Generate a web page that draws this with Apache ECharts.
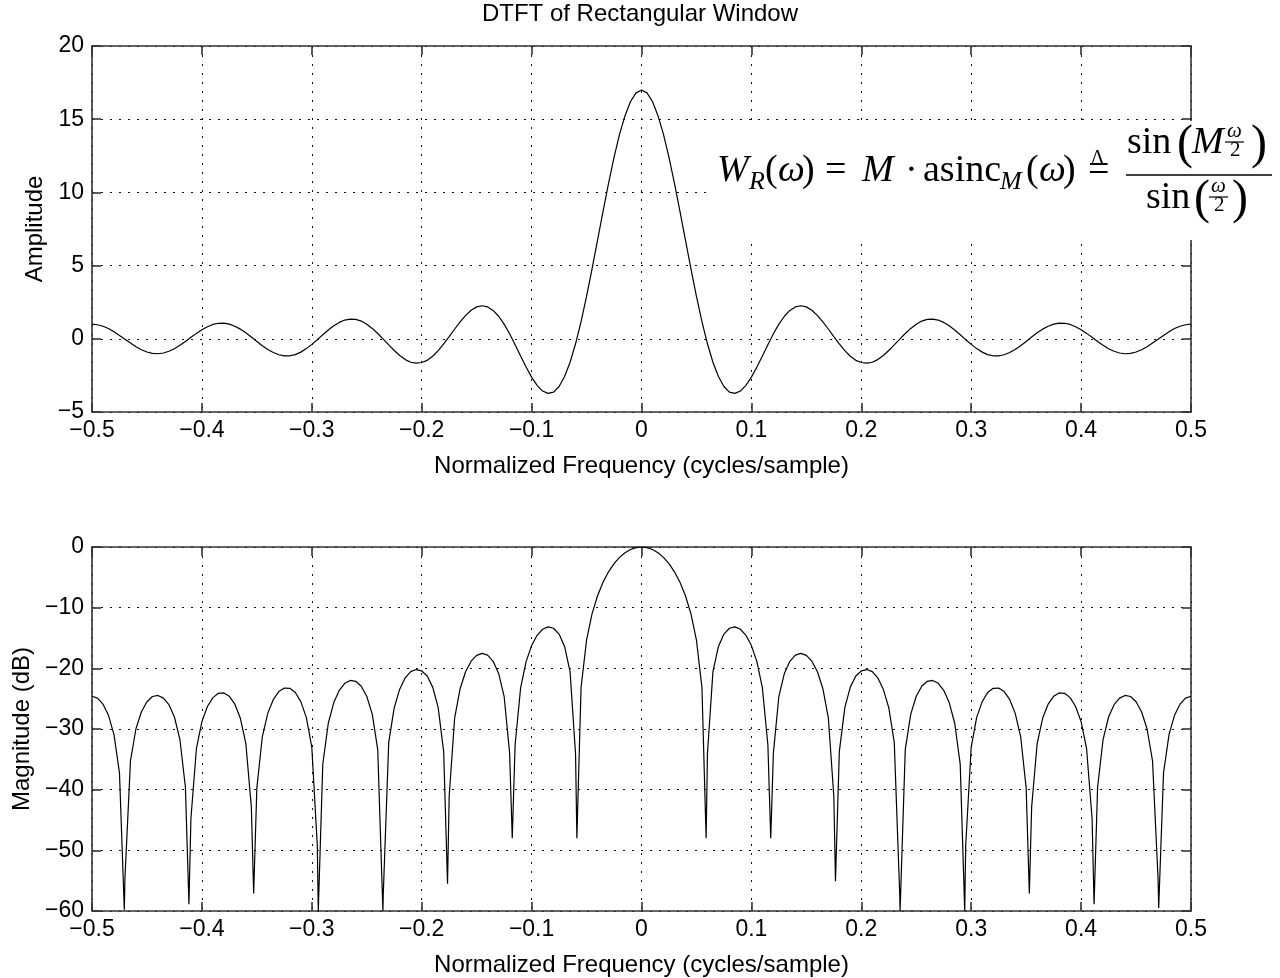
<!DOCTYPE html>
<html>
<head>
<meta charset="utf-8">
<script src="https://cdn.jsdelivr.net/npm/echarts@6/dist/echarts.min.js"></script>
<style>html,body{margin:0;padding:0;background:#fff}#chart{width:1280px;height:978px}</style>
</head>
<body>
<div id="chart"></div>
<script>
// ---------- data ----------
const chartTitle = 'DTFT of Rectangular Window';
const xAxisTitle = 'Normalized Frequency (cycles/sample)';
const ampAxisTitle = 'Amplitude';
const magAxisTitle = 'Magnitude (dB)';
const xTickLabels = ['\u22120.5','\u22120.4','\u22120.3','\u22120.2','\u22120.1','0','0.1','0.2','0.3','0.4','0.5'];
const ampTickLabels = ['\u22125','0','5','10','15','20'];
const magTickLabels = ['\u221260','\u221250','\u221240','\u221230','\u221220','\u221210','0'];

// amplitude curve: [normalized frequency, amplitude]
const amplitudePoints = [
[-0.500,1.00],[-0.495,0.96],[-0.490,0.86],[-0.485,0.70],[-0.480,0.48],[-0.475,0.23],[-0.470,-0.03],[-0.465,-0.29],[-0.460,-0.54],[-0.455,-0.75],
[-0.450,-0.90],[-0.445,-1.00],[-0.440,-1.02],[-0.435,-0.97],[-0.430,-0.85],[-0.425,-0.68],[-0.420,-0.44],[-0.415,-0.18],[-0.410,0.10],[-0.405,0.37],
[-0.400,0.62],[-0.395,0.82],[-0.390,0.98],[-0.385,1.06],[-0.380,1.07],[-0.375,1.00],[-0.370,0.86],[-0.365,0.66],[-0.360,0.41],[-0.355,0.12],
[-0.350,-0.18],[-0.345,-0.47],[-0.340,-0.73],[-0.335,-0.94],[-0.330,-1.09],[-0.325,-1.17],[-0.320,-1.16],[-0.315,-1.08],[-0.310,-0.91],[-0.305,-0.67],
[-0.300,-0.38],[-0.295,-0.06],[-0.290,0.28],[-0.285,0.60],[-0.280,0.89],[-0.275,1.12],[-0.270,1.28],[-0.265,1.35],[-0.260,1.33],[-0.255,1.21],
[-0.250,1.00],[-0.245,0.71],[-0.240,0.36],[-0.235,-0.02],[-0.230,-0.42],[-0.225,-0.80],[-0.220,-1.14],[-0.215,-1.42],[-0.210,-1.60],[-0.205,-1.66],
[-0.200,-1.62],[-0.195,-1.47],[-0.190,-1.19],[-0.185,-0.81],[-0.180,-0.35],[-0.175,0.15],[-0.170,0.67],[-0.165,1.16],[-0.160,1.60],[-0.155,1.95],
[-0.150,2.18],[-0.145,2.26],[-0.140,2.18],[-0.135,1.94],[-0.130,1.54],[-0.125,1.00],[-0.120,0.34],[-0.115,-0.40],[-0.110,-1.17],[-0.105,-1.93],
[-0.100,-2.62],[-0.095,-3.18],[-0.090,-3.57],[-0.085,-3.73],[-0.080,-3.64],[-0.075,-3.26],[-0.070,-2.58],[-0.065,-1.60],[-0.060,-0.34],[-0.055,1.18],
[-0.050,2.90],[-0.045,4.78],[-0.040,6.74],[-0.035,8.71],[-0.030,10.62],[-0.025,12.39],[-0.020,13.96],[-0.015,15.24],[-0.010,16.21],[-0.005,16.80],
[0.000,17.00],
[0.005,16.80],[0.010,16.21],[0.015,15.24],[0.020,13.96],[0.025,12.39],[0.030,10.62],[0.035,8.71],[0.040,6.74],[0.045,4.78],[0.050,2.90],
[0.055,1.18],[0.060,-0.34],[0.065,-1.60],[0.070,-2.58],[0.075,-3.26],[0.080,-3.64],[0.085,-3.73],[0.090,-3.57],[0.095,-3.18],[0.100,-2.62],
[0.105,-1.93],[0.110,-1.17],[0.115,-0.40],[0.120,0.34],[0.125,1.00],[0.130,1.54],[0.135,1.94],[0.140,2.18],[0.145,2.26],[0.150,2.18],
[0.155,1.95],[0.160,1.60],[0.165,1.16],[0.170,0.67],[0.175,0.15],[0.180,-0.35],[0.185,-0.81],[0.190,-1.19],[0.195,-1.47],[0.200,-1.62],
[0.205,-1.66],[0.210,-1.60],[0.215,-1.42],[0.220,-1.14],[0.225,-0.80],[0.230,-0.42],[0.235,-0.02],[0.240,0.36],[0.245,0.71],[0.250,1.00],
[0.255,1.21],[0.260,1.33],[0.265,1.35],[0.270,1.28],[0.275,1.12],[0.280,0.89],[0.285,0.60],[0.290,0.28],[0.295,-0.06],[0.300,-0.38],
[0.305,-0.67],[0.310,-0.91],[0.315,-1.08],[0.320,-1.16],[0.325,-1.17],[0.330,-1.09],[0.335,-0.94],[0.340,-0.73],[0.345,-0.47],[0.350,-0.18],
[0.355,0.12],[0.360,0.41],[0.365,0.66],[0.370,0.86],[0.375,1.00],[0.380,1.07],[0.385,1.06],[0.390,0.98],[0.395,0.82],[0.400,0.62],
[0.405,0.37],[0.410,0.10],[0.415,-0.18],[0.420,-0.44],[0.425,-0.68],[0.430,-0.85],[0.435,-0.97],[0.440,-1.02],[0.445,-1.00],[0.450,-0.90],
[0.455,-0.75],[0.460,-0.54],[0.465,-0.29],[0.470,-0.03],[0.475,0.23],[0.480,0.48],[0.485,0.70],[0.490,0.86],[0.495,0.96],[0.500,1.00]
];

// magnitude curve: [normalized frequency, dB] (null depths as seen in the picture)
const magnitudePoints = [
[-0.500,-24.61],[-0.495,-24.92],[-0.490,-25.91],[-0.485,-27.75],[-0.480,-30.93],[-0.475,-37.23],[-0.4706,-59.8],[-0.470,-54.51],[-0.465,-35.27],[-0.460,-29.96],
[-0.455,-27.15],[-0.450,-25.50],[-0.445,-24.64],[-0.440,-24.47],[-0.435,-24.91],[-0.430,-26.00],[-0.425,-28.02],[-0.420,-31.74],[-0.415,-39.60],[-0.4118,-58.9],
[-0.410,-44.79],[-0.405,-33.25],[-0.400,-28.79],[-0.395,-26.29],[-0.390,-24.83],[-0.385,-24.12],[-0.380,-24.05],[-0.375,-24.61],[-0.370,-25.91],[-0.365,-28.23],
[-0.360,-32.42],[-0.355,-42.88],[-0.3529,-57.1],[-0.350,-39.70],[-0.345,-31.24],[-0.340,-27.38],[-0.335,-25.13],[-0.330,-23.83],[-0.325,-23.25],[-0.320,-23.30],
[-0.315,-23.98],[-0.310,-25.48],[-0.305,-28.08],[-0.300,-32.97],[-0.295,-49.19],[-0.2941,-60],[-0.290,-35.79],[-0.285,-29.05],[-0.280,-25.64],[-0.275,-23.62],
[-0.270,-22.47],[-0.265,-21.99],[-0.260,-22.14],[-0.255,-22.95],[-0.250,-24.61],[-0.245,-27.56],[-0.240,-33.41],[-0.2353,-60],[-0.235,-57.38],[-0.230,-32.21],
[-0.225,-26.49],[-0.220,-23.44],[-0.215,-21.57],[-0.210,-20.55],[-0.205,-20.20],[-0.200,-20.43],[-0.195,-21.27],[-0.190,-23.10],[-0.185,-26.48],[-0.180,-33.73],
[-0.1765,-55.5],[-0.175,-41.09],[-0.170,-28.15],[-0.165,-23.32],[-0.160,-20.53],[-0.155,-18.82],[-0.150,-17.86],[-0.145,-17.53],[-0.140,-17.82],[-0.135,-18.84],
[-0.130,-20.84],[-0.125,-24.61],[-0.120,-33.98],[-0.1176,-48],[-0.115,-32.59],[-0.110,-23.23],[-0.105,-18.89],[-0.100,-16.25],[-0.095,-14.56],[-0.090,-13.56],
[-0.085,-13.17],[-0.080,-13.39],[-0.075,-14.35],[-0.070,-16.39],[-0.065,-20.54],[-0.060,-34.11],[-0.0588,-48],[-0.055,-23.17],[-0.050,-15.36],[-0.045,-11.03],
[-0.040,-8.04],[-0.035,-5.81],[-0.030,-4.09],[-0.025,-2.75],[-0.020,-1.71],[-0.015,-0.95],[-0.010,-0.42],[-0.005,-0.10],
[0.000,0.00],
[0.005,-0.10],[0.010,-0.42],[0.015,-0.95],[0.020,-1.71],[0.025,-2.75],[0.030,-4.09],[0.035,-5.81],[0.040,-8.04],
[0.045,-11.03],[0.050,-15.36],[0.055,-23.17],[0.0588,-48],[0.060,-34.11],[0.065,-20.54],[0.070,-16.39],[0.075,-14.35],[0.080,-13.39],[0.085,-13.17],
[0.090,-13.56],[0.095,-14.56],[0.100,-16.25],[0.105,-18.89],[0.110,-23.23],[0.115,-32.59],[0.1176,-48],[0.120,-33.98],[0.125,-24.61],[0.130,-20.84],
[0.135,-18.84],[0.140,-17.82],[0.145,-17.53],[0.150,-17.86],[0.155,-18.82],[0.160,-20.53],[0.165,-23.32],[0.170,-28.15],[0.175,-41.09],[0.1765,-55.1],
[0.180,-33.73],[0.185,-26.48],[0.190,-23.10],[0.195,-21.27],[0.200,-20.43],[0.205,-20.20],[0.210,-20.55],[0.215,-21.57],[0.220,-23.44],[0.225,-26.49],
[0.230,-32.21],[0.235,-57.38],[0.2353,-60],[0.240,-33.41],[0.245,-27.56],[0.250,-24.61],[0.255,-22.95],[0.260,-22.14],[0.265,-21.99],[0.270,-22.47],
[0.275,-23.62],[0.280,-25.64],[0.285,-29.05],[0.290,-35.79],[0.2941,-60],[0.295,-49.19],[0.300,-32.97],[0.305,-28.08],[0.310,-25.48],[0.315,-23.98],
[0.320,-23.30],[0.325,-23.25],[0.330,-23.83],[0.335,-25.13],[0.340,-27.38],[0.345,-31.24],[0.350,-39.70],[0.3529,-57.1],[0.355,-42.88],[0.360,-32.42],
[0.365,-28.23],[0.370,-25.91],[0.375,-24.61],[0.380,-24.05],[0.385,-24.12],[0.390,-24.83],[0.395,-26.29],[0.400,-28.79],[0.405,-33.25],[0.410,-44.79],
[0.4118,-58.9],[0.415,-39.60],[0.420,-31.74],[0.425,-28.02],[0.430,-26.00],[0.435,-24.91],[0.440,-24.47],[0.445,-24.64],[0.450,-25.50],[0.455,-27.15],
[0.460,-29.96],[0.465,-35.27],[0.470,-54.51],[0.4706,-59.5],[0.475,-37.23],[0.480,-30.93],[0.485,-27.75],[0.490,-25.91],[0.495,-24.92],[0.500,-24.61]
];

// ---------- styling ----------
const FONT = 'Liberation Sans';
const FS_TICK = 23;
const FS_NAME = 24;
const AXIS_COLOR = '#333';
const gridLine = { show: true, lineStyle: { color: '#111', width: 1, type: [2, 7] } };

function xAxisPair(gridIndex, withName) {
  const base = {
    gridIndex, type: 'value', min: -0.5, max: 0.5, interval: 0.1,
    axisLine: { show: true, onZero: false, lineStyle: { color: AXIS_COLOR, width: 1.6 } },
    axisTick: { show: true, inside: true, length: 9, lineStyle: { color: AXIS_COLOR, width: 1.6 } }
  };
  return [
    Object.assign({}, base, {
      position: 'bottom',
      axisLabel: { show: true, color: '#000', fontFamily: FONT, fontSize: FS_TICK, margin: 7,
        showMinLabel: true, showMaxLabel: true,
        formatter: v => xTickLabels[Math.round((v + 0.5) * 10)] },
      splitLine: gridLine,
      name: withName, nameLocation: 'middle', nameGap: 42,
      nameTextStyle: { color: '#000', fontFamily: FONT, fontSize: FS_NAME }
    }),
    Object.assign({}, base, { position: 'top', axisLabel: { show: false }, splitLine: { show: false } })
  ];
}
function yAxisPair(gridIndex, min, max, interval, labels, name, nameGap) {
  const base = {
    gridIndex, type: 'value', min, max, interval,
    axisLine: { show: true, onZero: false, lineStyle: { color: AXIS_COLOR, width: 1.6 } },
    axisTick: { show: true, inside: true, length: 9, lineStyle: { color: AXIS_COLOR, width: 1.6 } }
  };
  return [
    Object.assign({}, base, {
      position: 'left',
      axisLabel: { show: true, color: '#000', fontFamily: FONT, fontSize: FS_TICK, margin: 8,
        showMinLabel: true, showMaxLabel: true,
        formatter: v => labels[Math.round((v - min) / interval)] },
      splitLine: gridLine,
      name, nameLocation: 'middle', nameGap, nameRotate: 90,
      nameTextStyle: { color: '#000', fontFamily: FONT, fontSize: FS_NAME }
    }),
    Object.assign({}, base, { position: 'right', axisLabel: { show: false }, splitLine: { show: false } })
  ];
}

// ---------- formula annotation (drawn as text) ----------
const SERIF = '"Liberation Serif", "DejaVu Serif", serif';
function tx(str, x, base, size, italic) {
  return {
    type: 'text', z: 101, x: x, y: base - 0.33 * size,
    style: { text: str, font: (italic ? 'italic ' : '') + size + 'px ' + SERIF, fill: '#000',
      align: 'left', verticalAlign: 'middle', textAlign: 'left', textVerticalAlign: 'middle' }
  };
}
function ln(x1, y1, x2, y2, w) {
  return { type: 'line', z: 101, shape: { x1, y1, x2, y2 }, style: { stroke: '#000', lineWidth: w } };
}
const B = 184;      // main baseline
const AX = 175;     // fraction bar
const NB = 156;     // numerator baseline
const DB = 211;     // denominator baseline
const formula = [
  { type: 'rect', z: 100, shape: { x: 712, y: 121, width: 568, height: 119 }, style: { fill: '#fff' } },
  tx('W', 717, B, 38, true),
  tx('R', 749, B + 7, 26, true),
  tx('(', 765, B, 38, false),
  tx('\u03c9', 778, B, 38, true),
  tx(')', 802, B, 38, false),
  tx('=', 825, B, 38, false),
  tx('M', 862, B, 38, true),
  tx('\u00b7', 905, B, 38, false),
  tx('asinc', 923, B, 38, false),
  tx('M', 1000, B + 7, 26, true),
  tx('(', 1026, B, 38, false),
  tx('\u03c9', 1039, B, 38, true),
  tx(')', 1063, B, 38, false),
  tx('=', 1088, B, 38, false),
  tx('\u0394', 1091, B - 19, 20, false),
  ln(1126, AX, 1272, AX, 1.6),
  tx('sin', 1127, NB, 38, false),
  tx('(', 1177, NB + 5, 48, false),
  tx('M', 1192, NB, 38, true),
  tx('\u03c9', 1227, NB - 18, 21, true),
  ln(1225, NB - 14, 1244, NB - 14, 1.2),
  tx('2', 1230, NB + 1, 21, false),
  tx(')', 1251, NB + 5, 48, false),
  tx('sin', 1146, DB, 38, false),
  tx('(', 1194, DB + 5, 48, false),
  tx('\u03c9', 1211, DB - 18, 21, true),
  ln(1209, DB - 14, 1228, DB - 14, 1.2),
  tx('2', 1214, DB + 1, 21, false),
  tx(')', 1232, DB + 5, 48, false)
];

const chart = echarts.init(document.getElementById('chart'), null, { renderer: 'canvas' });
chart.setOption({
  animation: false,
  backgroundColor: '#fff',
  title: { text: chartTitle, left: 'center', top: -3,
    textStyle: { color: '#000', fontFamily: FONT, fontSize: FS_NAME, fontWeight: 'normal' } },
  grid: [
    { left: 92, top: 46, width: 1099, height: 366 },
    { left: 92, top: 547, width: 1099, height: 367 }
  ],
  xAxis: [].concat(xAxisPair(0, xAxisTitle), xAxisPair(1, xAxisTitle)),
  yAxis: [].concat(
    yAxisPair(0, -5, 20, 5, ampTickLabels, ampAxisTitle, 42),
    yAxisPair(1, -60, 0, 10, magTickLabels, magAxisTitle, 58)
  ),
  series: [
    { type: 'line', xAxisIndex: 0, yAxisIndex: 0, data: amplitudePoints, showSymbol: false,
      lineStyle: { color: '#000', width: 1.2 }, silent: true, clip: true },
    { type: 'line', xAxisIndex: 2, yAxisIndex: 2, data: magnitudePoints, showSymbol: false,
      lineStyle: { color: '#000', width: 1.2 }, silent: true, clip: true }
  ],
  graphic: formula
});
</script>
</body>
</html>
